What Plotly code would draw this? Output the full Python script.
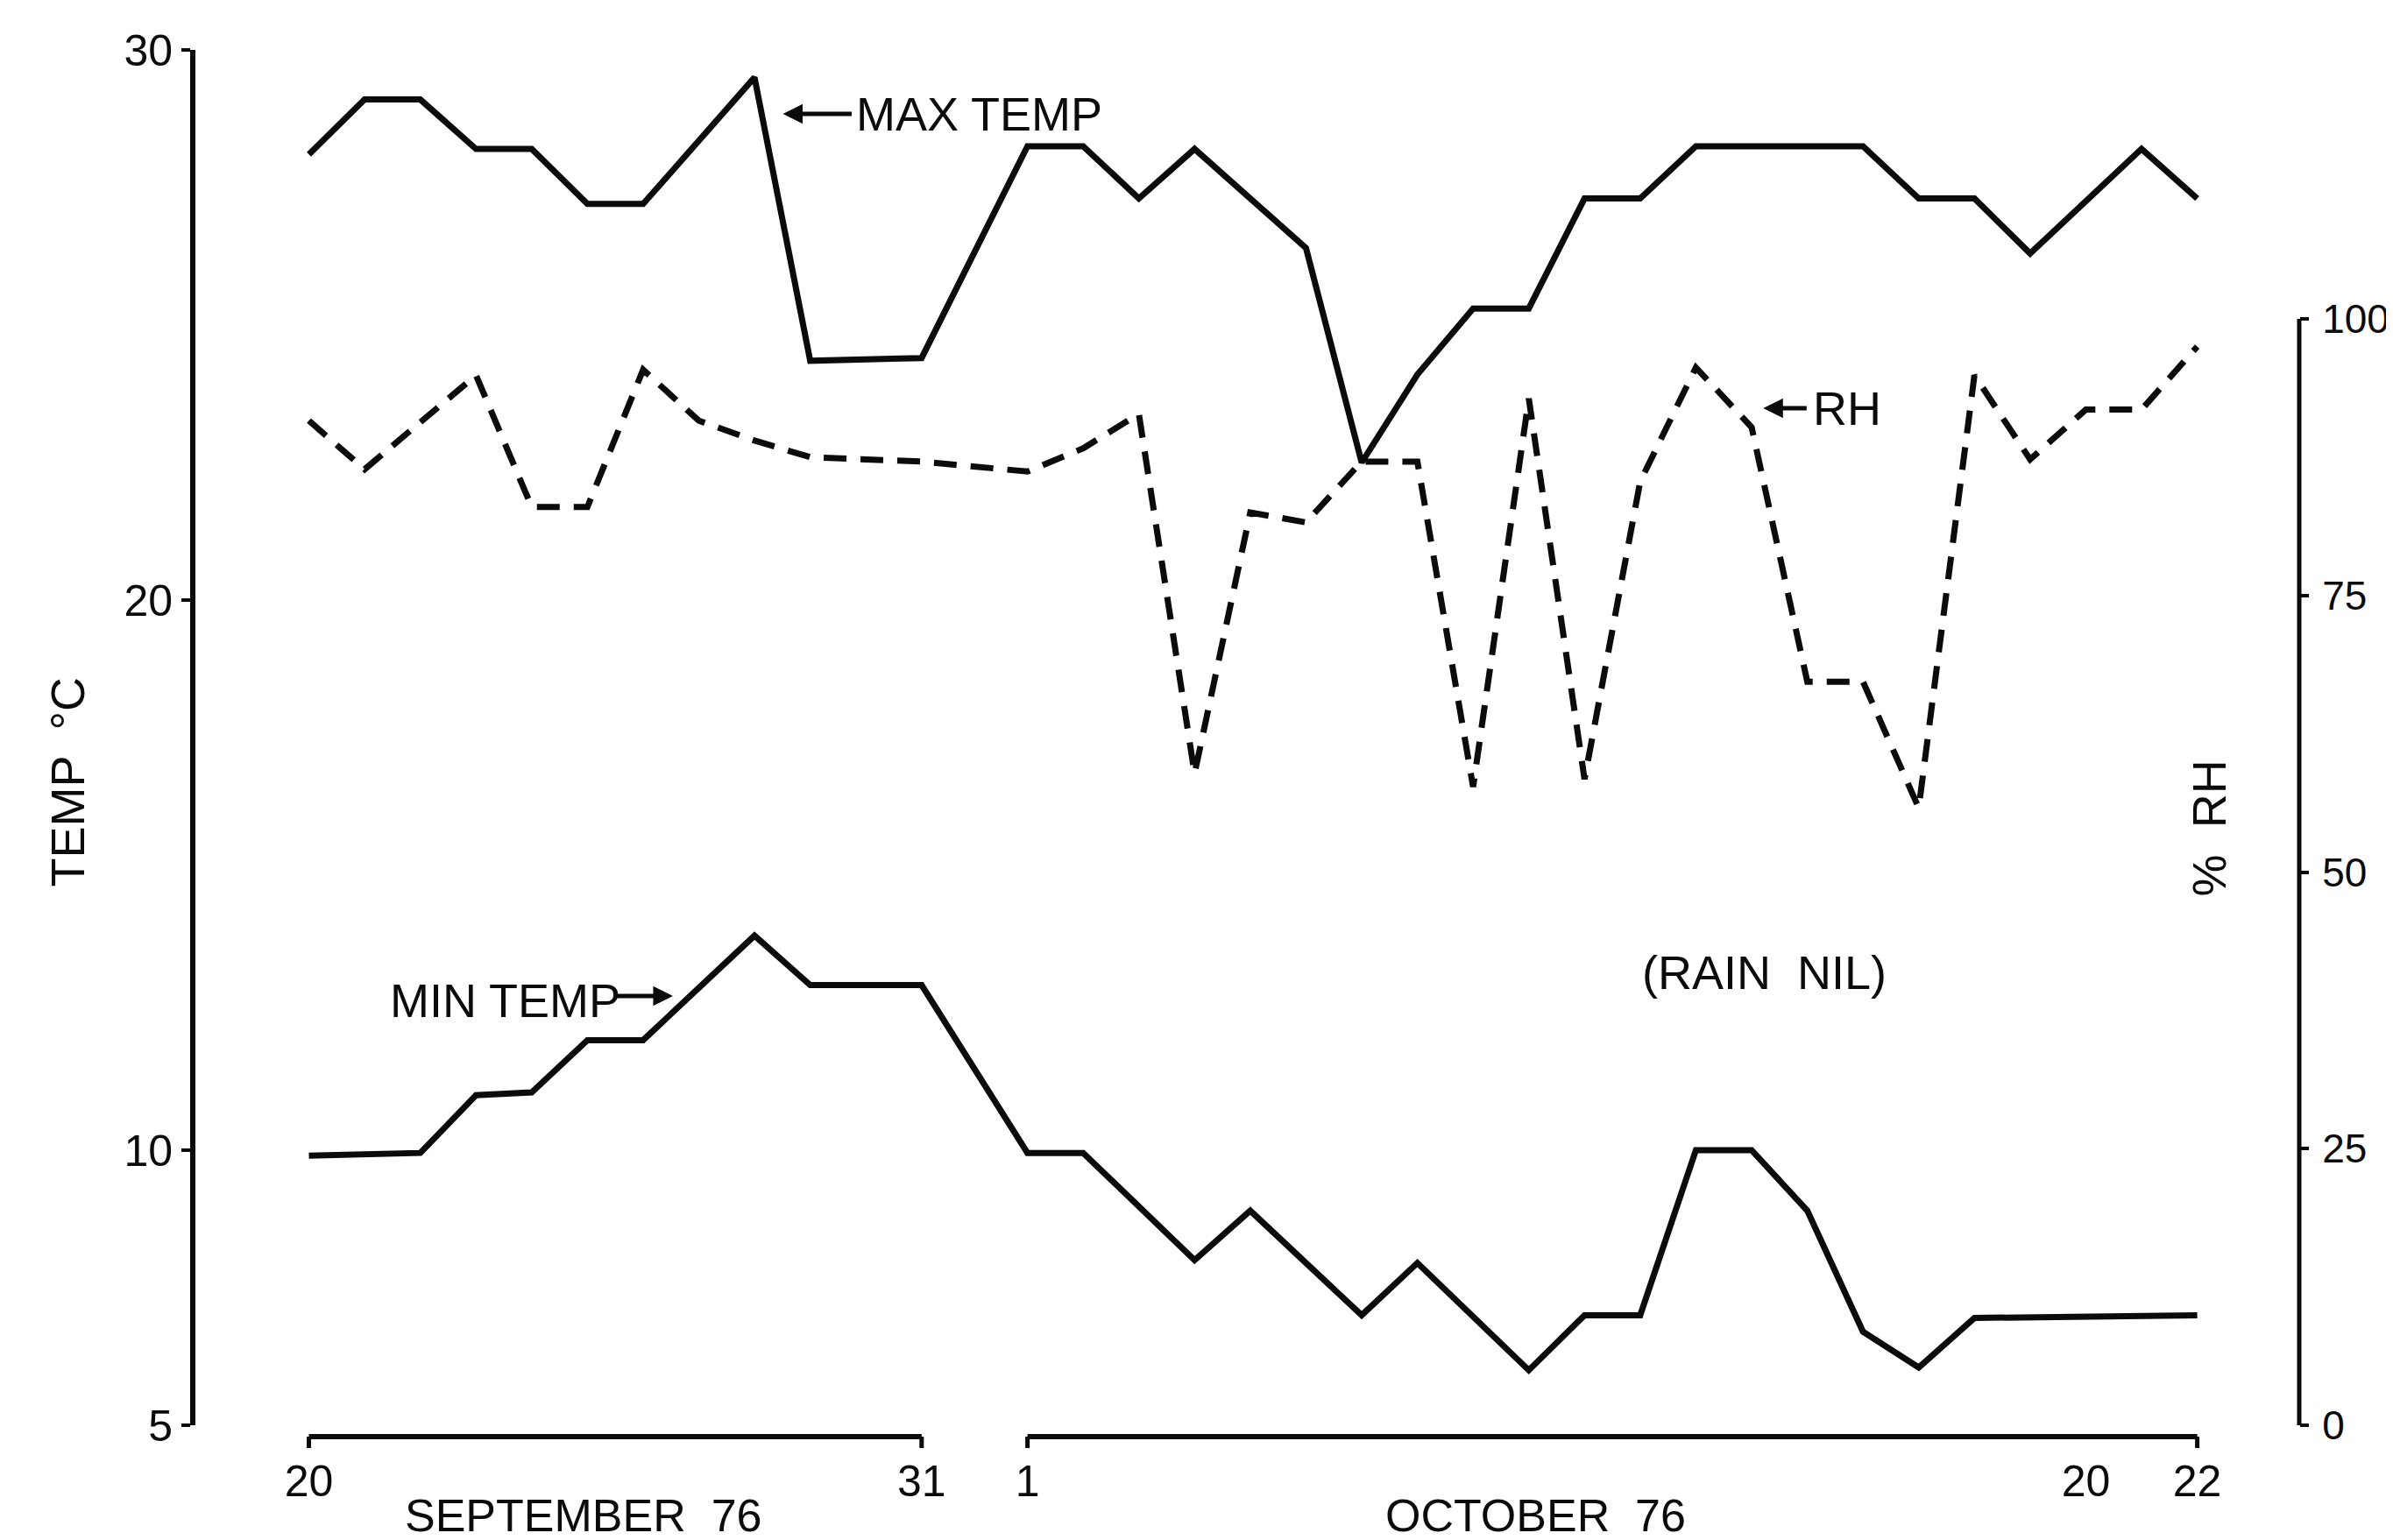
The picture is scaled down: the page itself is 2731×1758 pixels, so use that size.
import plotly.graph_objects as go

# ---------------- data ----------------
sep_days = list(range(20, 32))          # 20 .. 31 (as printed)
oct_days = list(range(1, 23))           # 1 .. 22

max_temp_sep = [28.1, 29.1, 29.1, 28.2, 28.2, 27.2, 27.2, None, 29.5, 24.35, None, 24.4]
max_temp_oct = [28.25, 28.25, 27.3, 28.2, 27.3, 26.4, 22.5, 24.1, 25.3, 25.3, 27.3, 27.3,
                28.25, None, None, 28.25, 27.3, 27.3, 26.3, None, 28.2, 27.3]

min_temp_sep = [9.9, None, 9.95, 11.0, 11.05, 12.0, 12.0, None, 13.9, 13.0, None, 13.0]
min_temp_oct = [9.95, 9.95, None, 8.0, 8.9, None, 7.0, 7.95, None, 6.0, 7.0, 7.0,
                10.0, 10.0, 8.9, 6.7, 6.05, 6.95, None, None, None, 7.0]

rh_sep = [90.8, 86.4, None, 94.9, 83.0, 83.0, 95.4, 90.8, 89.0, 87.5, None, 87.1]
rh_oct = [86.2, 88.3, 91.4, 58.9, 82.5, 81.6, 87.1, 87.1, 57.7, 92.8, 58.4, 85.3,
          95.6, 90.2, 67.2, 67.2, 55.8, 94.9, 87.3, 91.8, 91.8, 97.5]

temp_ticks = [5, 10, 20, 30]
rh_ticks = [0, 25, 50, 75, 100]
x_tick_labels = [("sep", 20, "20"), ("sep", 31, "31"), ("oct", 1, "1"),
                 ("oct", 20, "20"), ("oct", 22, "22")]

# ---------------- positions on the day axis ----------------
OCT_OFFSET = 11.9   # October day d sits at d + OCT_OFFSET (gap between months)


def xpos(month, d):
    return d - 20 if month == "sep" else d + OCT_OFFSET


xs = [xpos("sep", d) for d in sep_days] + [xpos("oct", d) for d in oct_days]
max_temp = max_temp_sep + max_temp_oct
min_temp = min_temp_sep + min_temp_oct
rh = rh_sep + rh_oct

W, H = 2731, 1758
L, R, T, B = 215, 2625, 49, 1619
FONT = "Liberation Sans"
INK = "#0b0b0b"
FS = 54


def pxx(X):
    return (X - L) / (R - L)


def pxy(Y):
    return (B - Y) / (B - T)


# RH scale: 0 % at the plot bottom, 100 % at pixel row 356
rh_top_frac = pxy(356)
rh_range_max = 100 / rh_top_frac

fig = go.Figure()
line_w = 7
fig.add_trace(go.Scatter(x=xs, y=max_temp, mode="lines", connectgaps=True,
                         line=dict(color=INK, width=line_w), name="MAX TEMP",
                         xaxis="x", yaxis="y"))
fig.add_trace(go.Scatter(x=xs, y=min_temp, mode="lines", connectgaps=True,
                         line=dict(color=INK, width=line_w), name="MIN TEMP",
                         xaxis="x", yaxis="y"))
fig.add_trace(go.Scatter(x=xs, y=rh, mode="lines", connectgaps=True,
                         line=dict(color=INK, width=7, dash="26px,16px"), name="RH",
                         xaxis="x", yaxis="y2"))

shapes = []
# x axis: two separate month bars
y_bar = pxy(1632)
y_tick = pxy(1645)
for (x0, x1) in [(xpos("sep", sep_days[0]), xpos("sep", sep_days[-1])),
                 (xpos("oct", oct_days[0]), xpos("oct", oct_days[-1]))]:
    shapes.append(dict(type="line", xref="x", yref="paper", x0=x0, x1=x1, y0=y_bar, y1=y_bar,
                       line=dict(color=INK, width=6)))
    for xe in (x0, x1):
        shapes.append(dict(type="line", xref="x", yref="paper", x0=xe, x1=xe, y0=y_bar, y1=y_tick,
                           line=dict(color=INK, width=5)))
# right RH axis line, only from 0 to 100 %
shapes.append(dict(type="line", xref="paper", yref="y2", x0=1, x1=1, y0=rh_ticks[0],
                   y1=rh_ticks[-1], line=dict(color=INK, width=5)))

annotations = []


def text(x, y, s, xanchor="left", angle=0, size=FS):
    annotations.append(dict(xref="paper", yref="paper", x=pxx(x), y=pxy(y), text=s,
                            showarrow=False, xanchor=xanchor, yanchor="middle",
                            textangle=angle, font=dict(family=FONT, size=size, color=INK)))


def arrow(x_tip, y, x_tail):
    annotations.append(dict(xref="paper", yref="paper", x=pxx(x_tip), y=pxy(y),
                            ax=x_tail - x_tip, ay=0, axref="pixel", ayref="pixel",
                            text="", showarrow=True, arrowhead=2, arrowsize=0.9,
                            arrowwidth=5, arrowcolor=INK))


arrow(888, 122, 968)
text(970, 122, "MAX TEMP")
arrow(2011, 458, 2062)
text(2066, 458, "RH")
text(436, 1134, "MIN TEMP")
arrow(762, 1129, 694)
text(2012, 1102, "(RAIN  NIL)", xanchor="center")
text(659, 1722, "SEPTEMBER  76", xanchor="center", size=52)
text(1750, 1722, "OCTOBER  76", xanchor="center", size=52)
text(68, 885, "TEMP  °C", xanchor="center", angle=-90)
text(2522, 937, "%  RH", xanchor="center", angle=-90)

x_min = xpos("sep", 20) - (345 - L) / 63.81
x_max = x_min + (R - L) / 63.81

fig.update_layout(
    width=W, height=H,
    margin=dict(l=L, r=W - R, t=T, b=H - B, pad=0),
    paper_bgcolor="white", plot_bgcolor="white",
    showlegend=False,
    font=dict(family=FONT, size=FS, color=INK),
    xaxis=dict(range=[x_min, x_max], showline=False, showgrid=False, zeroline=False,
               tickmode="array",
               tickvals=[xpos(m, d) for (m, d, _) in x_tick_labels],
               ticktext=[t for (_, _, t) in x_tick_labels],
               ticks="", ticklabelstandoff=30,
               tickfont=dict(family=FONT, size=50, color=INK), anchor="y"),
    yaxis=dict(range=[5, 30], domain=[0, 1], showline=True, linecolor=INK, linewidth=6,
               showgrid=False, zeroline=False, tickmode="array", tickvals=temp_ticks,
               ticks="outside", ticklen=10, tickwidth=4, tickcolor=INK,
               ticklabelstandoff=0,
               tickfont=dict(family=FONT, size=50, color=INK), anchor="x"),
    yaxis2=dict(range=[0, rh_range_max], overlaying="y", side="right", anchor="x",
                showline=False, showgrid=False, zeroline=False,
                tickmode="array", tickvals=rh_ticks, ticks="outside", ticklen=10,
                tickwidth=4, tickcolor=INK, ticklabelstandoff=6,
                tickfont=dict(family=FONT, size=46, color=INK)),
    shapes=shapes,
    annotations=annotations,
)

fig.write_html("out.html")
